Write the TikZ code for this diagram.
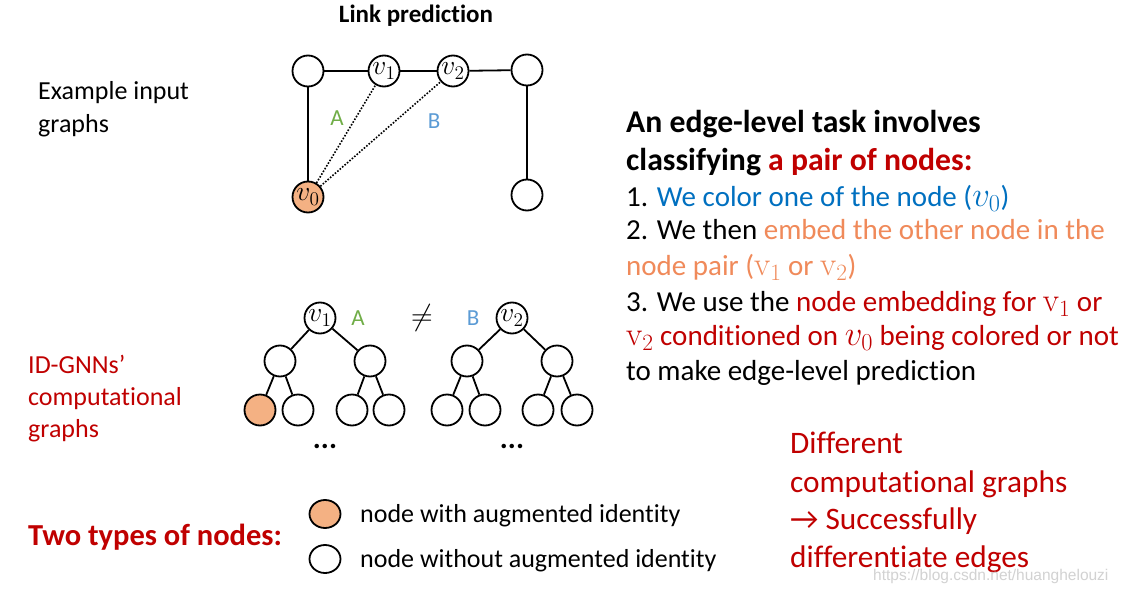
\RequirePackage{fix-cm}
\documentclass[tikz,border=0pt]{standalone}
\usepackage[no-math]{fontspec}
\setmainfont{Carlito}[Ligatures=NoCommon]
\newfontfamily\wmfont{Liberation Sans}
\usetikzlibrary{shapes.geometric}
\definecolor{dred}{RGB}{192,0,0}
\definecolor{tblue}{RGB}{0,112,192}
\definecolor{torange}{RGB}{240,138,90}
\definecolor{agreen}{RGB}{112,173,71}
\definecolor{bblue}{RGB}{91,155,213}
\definecolor{nfill}{RGB}{244,177,131}
\newcommand\fsz[1]{\fontsize{#1}{#1}\selectfont}
\newcommand\vit[1]{\scalebox{1.2}{$v_{#1}$}}
\newcommand\vup[1]{\scalebox{1.15}{$\mathrm{v}_{#1}$}}
\begin{document}
\begin{tikzpicture}[x=1pt,y=-1pt,
 gnode/.style={circle,draw,line width=1.8pt,minimum size=31pt,inner sep=0pt,fill=white,font=\fsz{23}},
 idnode/.style={gnode,fill=nfill},
 edge/.style={line width=1.8pt},
 dotedge/.style={line width=1.6pt,dash pattern=on 1.6pt off 1.6pt},
 txt/.style={anchor=base west,inner sep=0pt},
 rtxt/.style={txt,font=\fsz{29}},
 btxt/.style={txt,font=\bfseries\fsz{31.7}},
 ltxt/.style={txt,font=\fsz{26}},
 ctxt/.style={txt,font=\fsz{31.3},text=dred},
 lab/.style={inner sep=0pt,font=\fsz{23}},
 dots/.style={inner sep=0pt,font=\bfseries\fsz{30}},
 legnode/.style={ellipse,draw,line width=1.8pt,minimum width=31pt,minimum height=28pt,inner sep=0pt},
 ]
\useasboundingbox (0,0) rectangle (1124,591);
\fill[white] (0,0) rectangle (1124,591);

% ---- Link prediction graph ----
\node[inner sep=0pt,anchor=base,font=\bfseries\fsz{25}] (title) at (416,23) {Link prediction};
\node[gnode] (tl) at (308,71) {};
\node[gnode] (v1) at (384,71) {\vit{1}};
\node[gnode] (v2) at (453,71) {\vit{2}};
\node[gnode] (tr) at (527,70) {};
\node[idnode] (v0) at (308,197) {\vit{0}};
\node[gnode] (br) at (527,195) {};
\draw[edge] (tl) -- (v1);
\draw[edge] (v1) -- (v2);
\draw[edge] (v2) -- (tr);
\draw[edge] (tl) -- (v0);
\draw[edge] (tr) -- (br);
\draw[dotedge] (v0) -- (v1);
\draw[dotedge] (v0) -- (v2);
\node[lab,text=agreen] (la) at (337,118) {A};
\node[lab,text=bblue] (lb) at (434,121) {B};

\node[ltxt] (ex1) at (38,100) {Example input};
\node[ltxt] (ex2) at (38,133) {graphs};

% ---- computational graphs ----
\node[gnode] (ra) at (320,318) {\vit{1}};
\node[gnode] (a1) at (280,361) {};
\node[gnode] (a2) at (370,361) {};
\node[idnode] (a11) at (260,410) {};
\node[gnode] (a12) at (298,410) {};
\node[gnode] (a21) at (352,410) {};
\node[gnode] (a22) at (389,410) {};
\draw[edge] (ra) -- (a1);
\draw[edge] (ra) -- (a2);
\draw[edge] (a1) -- (a11);
\draw[edge] (a1) -- (a12);
\draw[edge] (a2) -- (a21);
\draw[edge] (a2) -- (a22);

\node[gnode] (rb) at (512,318) {\vit{2}};
\node[gnode] (b1) at (467,361) {};
\node[gnode] (b2) at (557,361) {};
\node[gnode] (b11) at (447,410) {};
\node[gnode] (b12) at (485,410) {};
\node[gnode] (b21) at (538,410) {};
\node[gnode] (b22) at (577,410) {};
\draw[edge] (rb) -- (b1);
\draw[edge] (rb) -- (b2);
\draw[edge] (b1) -- (b11);
\draw[edge] (b1) -- (b12);
\draw[edge] (b2) -- (b21);
\draw[edge] (b2) -- (b22);

\node[lab,text=agreen] (ta) at (358,318) {A};
\node[lab,font=\fsz{30}] (neq) at (422,318) {$\neq$};
\node[lab,text=bblue] (tb) at (473,318) {B};
\node[dots] (da) at (325,446) {...};
\node[dots] (db) at (512,446) {...};

\node[ltxt,text=dred] (id1) at (28,373) {ID-GNNs’};
\node[ltxt,text=dred] (id2) at (28,405) {computational};
\node[ltxt,text=dred] (id3) at (28,437) {graphs};

% ---- right text ----
\node[btxt] (r1) at (626,132) {An edge-level task involves};
\node[btxt] (r2) at (626,170) {classifying \textcolor{dred}{a pair of nodes:}};
\node[rtxt] (r3) at (626,206) {1. \textcolor{tblue}{We color one of the node (\vit{0})}};
\node[rtxt] (r4) at (626,239) {2. We then \textcolor{torange}{embed the other node in the}};
\node[rtxt,text=torange] (r5) at (626,275) {node pair (\vup{1} or \vup{2})};
\node[rtxt] (r6) at (626,311) {3. We use the \textcolor{dred}{node embedding for \vup{1} or}};
\node[rtxt,text=dred] (r7) at (626,345) {\vup{2} conditioned on \vit{0} being colored or not};
\node[rtxt] (r8) at (626,380) {to make edge-level prediction};

\node[ctxt] (c1) at (790,453) {Different};
\node[ctxt] (c2) at (790,492) {computational graphs};
\node[ctxt] (c3) at (790,529) {→ Successfully};
\node[ctxt] (c4) at (790,567) {differentiate edges};

% ---- legend ----
\node[txt,font=\bfseries\fsz{30.5},text=dred] (two) at (28,545) {Two types of nodes:};
\node[legnode,fill=nfill] (lg1) at (325,514) {};
\node[legnode,fill=white] (lg2) at (325,559) {};
\node[ltxt] (lt1) at (360,522) {node with augmented identity};
\node[ltxt] (lt2) at (360,567) {node without augmented identity};

\node[inner sep=0pt,anchor=base west,font=\wmfont\fsz{15.5},text=gray!35] (wm) at (873,580) {https://blog.csdn.net/huanghelouzi};
\end{tikzpicture}
\end{document}
